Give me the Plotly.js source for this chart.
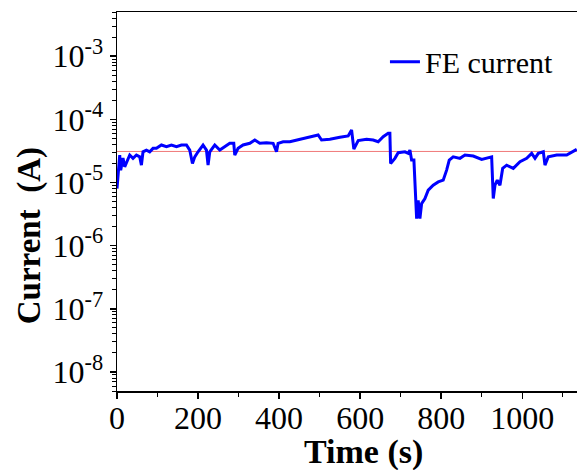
<!DOCTYPE html>
<html>
<head>
<meta charset="utf-8">
<script src="https://cdn.plot.ly/plotly-3.0.1.min.js"></script>
<style>html,body{margin:0;padding:0;background:#fff;}#chart{width:577px;height:470px;}</style>
</head>
<body>
<div id="chart"></div>
<script>
// Time (s)
const timeS = [0, 2.5, 6.7, 9.1, 14.8, 19, 27.2, 31.4, 39.5, 47.9, 56, 60.2, 64.2, 72.6, 80.7, 88.9, 97.3, 109.6, 122, 134.3,
  146.7, 159, 171.4, 179.5, 186.2, 191.9, 200, 212.3, 220.7, 224.7, 228.9, 241.2, 253.6, 265.9, 278.3, 288.1, 290.6, 298.8, 311.1, 327.7,
  340, 352.3, 368.9, 385.2, 393.6, 397.5, 409.9, 426.4, 443, 459.3, 475.8, 496.3, 504.7, 525.2, 549.9, 570.4, 578.8, 584.4, 595.1, 615.8,
  632.1, 644.4, 656.8, 669.1, 673.3, 675.1, 685.7, 693.8, 710.4, 718.5, 722.7, 726.9, 732.6, 735, 739.3, 743.2, 747.4, 751.6, 759.8, 767.9,
  780.2, 792.6, 804.9, 813.3, 819.8, 829.6, 846.2, 858.5, 879, 899.8, 916, 924.4, 928.4, 932.6, 938.3, 944.9, 951.6, 961.5, 977.8, 994.3,
  1010.9, 1023.2, 1031.4, 1039.5, 1051.9, 1056, 1064.2, 1084.9, 1109.6, 1122, 1134.3];
// FE current (A)
const feCurrent = [8.0e-6, 1.41e-5, 2.72e-5, 1.57e-5, 2.43e-5, 1.77e-5, 2.26e-5, 2.72e-5, 2.41e-5, 2.72e-5, 2.55e-5, 1.88e-5, 3.06e-5, 3.26e-5, 3.06e-5, 3.47e-5, 3.47e-5, 3.92e-5, 3.68e-5, 3.92e-5,
  3.68e-5, 3.92e-5, 3.92e-5, 3.26e-5, 2.00e-5, 2.55e-5, 3.06e-5, 3.92e-5, 3.26e-5, 1.88e-5, 3.06e-5, 3.92e-5, 3.26e-5, 3.68e-5, 4.17e-5, 4.17e-5, 2.72e-5, 3.47e-5, 3.92e-5, 4.17e-5,
  4.70e-5, 4.17e-5, 4.26e-5, 4.17e-5, 3.06e-5, 4.17e-5, 4.42e-5, 4.42e-5, 4.70e-5, 5.01e-5, 5.31e-5, 5.65e-5, 4.70e-5, 4.83e-5, 5.19e-5, 5.45e-5, 6.78e-5, 3.38e-5, 4.62e-5, 4.83e-5,
  4.70e-5, 4.42e-5, 5.31e-5, 6.01e-5, 6.01e-5, 2.00e-5, 2.41e-5, 2.96e-5, 3.06e-5, 2.89e-5, 3.26e-5, 2.26e-5, 2.26e-5, 1.23e-5, 2.68e-6, 5.23e-6, 2.68e-6, 4.64e-6, 5.57e-6, 7.55e-6,
  9.06e-6, 1.02e-5, 1.09e-5, 1.57e-5, 2.26e-5, 2.55e-5, 2.41e-5, 2.72e-5, 2.62e-5, 2.32e-5, 2.50e-5, 2.55e-5, 5.57e-6, 9.06e-6, 1.09e-5, 9.06e-6, 1.67e-5, 1.88e-5, 1.67e-5, 2.13e-5,
  2.41e-5, 2.89e-5, 2.41e-5, 2.89e-5, 3.06e-5, 1.88e-5, 2.55e-5, 2.72e-5, 2.72e-5, 3.06e-5, 3.35e-5];
// Reference level line
const refTime = [0, 1135];
const refCurrent = [3.1e-5, 3.1e-5];
// Axis ticks
const xTickVals = [0, 200, 400, 600, 800, 1000];
const yTickVals = [1e-8, 1e-7, 1e-6, 1e-5, 1e-4, 1e-3];
const yTickText = ['10<sup>-8</sup>', '10<sup>-7</sup>', '10<sup>-6</sup>', '10<sup>-5</sup>', '10<sup>-4</sup>', '10<sup>-3</sup>'];

const yMinor = [];
for (let e = -9; e <= -3; e++) {
  for (let m = 2; m <= 9; m++) {
    const v = m * Math.pow(10, e);
    if (v >= 5e-9 && v <= 5e-3) yMinor.push(v);
  }
}

const serif = '"Liberation Serif", "Times New Roman", serif';

const traces = [
  {
    x: refTime, y: refCurrent, type: 'scatter', mode: 'lines',
    line: {color: 'rgb(240,120,120)', width: 1}, showlegend: false, hoverinfo: 'skip'
  },
  {
    x: timeS, y: feCurrent, type: 'scatter', mode: 'lines', name: 'FE current',
    line: {color: '#0000ff', width: 3}
  }
];

const layout = {
  width: 577, height: 470,
  margin: {l: 117, r: 0, t: 12, b: 79},
  paper_bgcolor: '#fff', plot_bgcolor: '#fff',
  font: {family: serif, color: '#000', size: 32},
  showlegend: true,
  legend: {x: 0.5825, xanchor: 'left', y: 0.869, yanchor: 'middle', bgcolor: 'rgba(0,0,0,0)', itemwidth: 30,
    font: {family: serif, size: 30, color: '#000'}},
  xaxis: {
    range: [0, 1135], tickmode: 'array', tickvals: xTickVals,
    ticks: 'outside', ticklen: 6, tickwidth: 1.5, tickcolor: '#000', ticklabelstandoff: -8,
    showline: true, linecolor: '#000', linewidth: 1.5, mirror: true,
    showgrid: false, zeroline: false,
    tickfont: {family: serif, size: 32, color: '#000'},
    minor: {tickmode: 'linear', tick0: 100, dtick: 200, ticks: 'outside', ticklen: 4, tickwidth: 1.2, tickcolor: '#000', showgrid: false}
  },
  yaxis: {
    type: 'log', range: [Math.log10(5e-9), Math.log10(5e-3)],
    tickmode: 'array', tickvals: yTickVals, ticktext: yTickText,
    ticks: 'outside', ticklen: 6, tickwidth: 1.5, tickcolor: '#000',
    showline: true, linecolor: '#000', linewidth: 1.5, mirror: false,
    showgrid: false, zeroline: false,
    tickfont: {family: serif, size: 32, color: '#000'},
    minor: {tickmode: 'array', tickvals: yMinor, ticks: 'outside', ticklen: 4, tickwidth: 1, tickcolor: '#000', showgrid: false}
  },
  annotations: [
    {text: 'Time (s)', xref: 'paper', yref: 'paper', x: 0.535, y: -0.161, xanchor: 'center', yanchor: 'middle',
      showarrow: false, font: {family: serif, size: 34, color: '#000', weight: 'bold'}},
    {text: 'Current\u00a0 (A)', xref: 'paper', yref: 'paper', x: -0.19, y: 0.41, xanchor: 'center', yanchor: 'middle',
      textangle: -90, showarrow: false, font: {family: serif, size: 33, color: '#000', weight: 'bold'}}
  ]
};

Plotly.newPlot('chart', traces, layout, {displayModeBar: false, staticPlot: true});
</script>
</body>
</html>
